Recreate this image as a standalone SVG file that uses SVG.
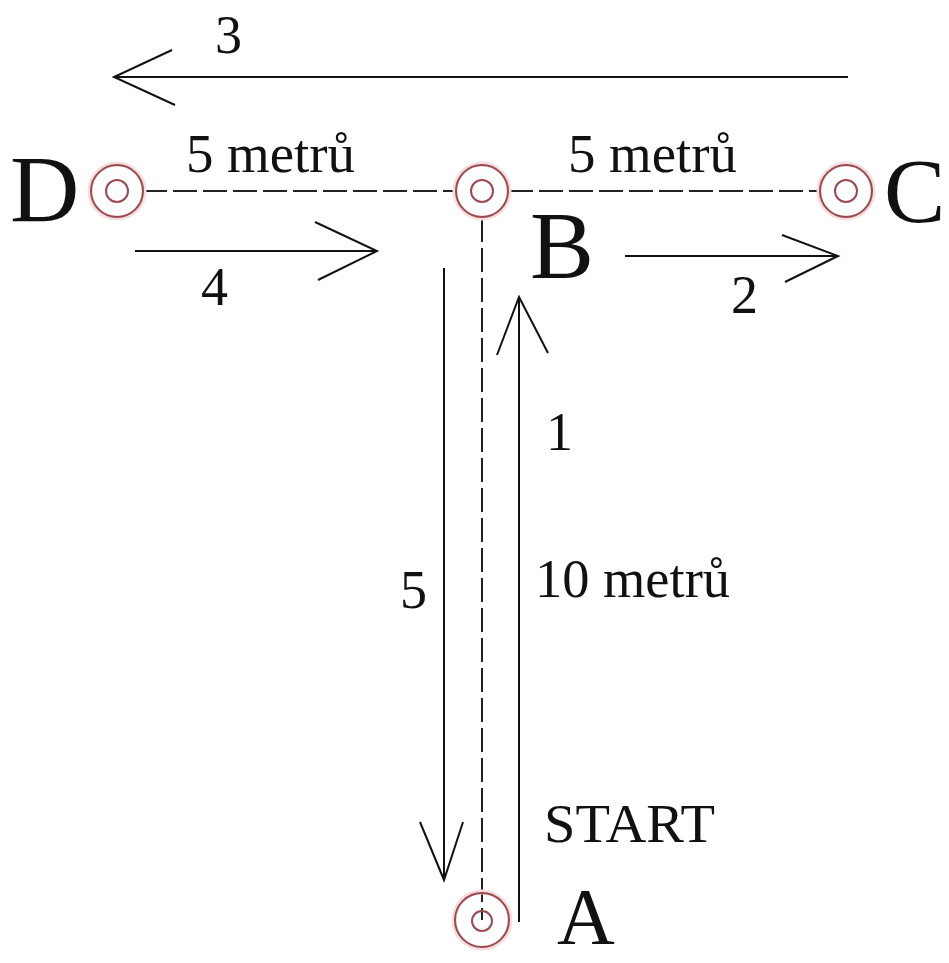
<svg xmlns="http://www.w3.org/2000/svg" width="949" height="963" viewBox="0 0 949 963">
<style>
.ln{stroke:#111;stroke-width:2;fill:none}
.ds{stroke:#222;stroke-width:2;fill:none;stroke-dasharray:24 6}
.rg{stroke:#9a4a50;stroke-width:2;fill:none}
.halo{stroke:#f6dede;stroke-width:5;fill:none}
.t{font-family:"Liberation Serif","Times New Roman",serif;fill:#111}
.lab{font-size:54px}
.big{font-size:96px}
</style>
<rect width="949" height="963" fill="#fff"/>
<g id="connectors">
<line class="ds" x1="143" y1="191" x2="456" y2="191"/>
<line class="ds" x1="509" y1="191" x2="820" y2="191"/>
<line class="ds" x1="482" y1="218" x2="482" y2="920"/>
<g id="arrow1"><line class="ln" x1="519" y1="922" x2="519" y2="297"/><polyline class="ln" points="497,355 519,297 548,353"/></g>
<g id="arrow2"><line class="ln" x1="625" y1="256" x2="838" y2="256"/><polyline class="ln" points="782,235 838,256 785,282"/></g>
<g id="arrow3"><line class="ln" x1="848" y1="77" x2="114" y2="77"/><polyline class="ln" points="172,50 114,77 175,105"/></g>
<g id="arrow4"><line class="ln" x1="135" y1="251" x2="377" y2="251"/><polyline class="ln" points="315,222 377,251 318,280"/></g>
<g id="arrow5"><line class="ln" x1="444" y1="268" x2="444" y2="880"/><polyline class="ln" points="420,822 444,880 463,822"/></g>
</g>
<g id="nodeD"><circle class="halo" cx="117" cy="191" r="27"/><circle class="rg" cx="117" cy="191" r="26"/><circle class="rg" cx="117" cy="191" r="11"/><text class="t big" x="10" y="222">D</text></g>
<g id="nodeB"><circle class="halo" cx="482" cy="191" r="27"/><circle class="rg" cx="482" cy="191" r="26"/><circle class="rg" cx="482" cy="191" r="11"/><text class="t big" x="530" y="278">B</text></g>
<g id="nodeC"><circle class="halo" cx="846" cy="191" r="27"/><circle class="rg" cx="846" cy="191" r="26"/><circle class="rg" cx="846" cy="191" r="11"/><text class="t" font-size="92" x="884" y="222">C</text></g>
<g id="nodeA"><circle class="halo" cx="482" cy="920" r="28"/><circle class="rg" cx="482" cy="920" r="27"/><circle class="rg" cx="482" cy="921" r="10"/><text class="t" font-size="80" x="557" y="944">A</text></g>
<g id="labels">
<text class="t lab" x="215" y="53">3</text>
<text class="t lab" x="186" y="172" textLength="169" lengthAdjust="spacingAndGlyphs">5 metrů</text>
<text class="t lab" x="568" y="172" textLength="169" lengthAdjust="spacingAndGlyphs">5 metrů</text>
<text class="t lab" x="201" y="305">4</text>
<text class="t lab" x="731" y="313">2</text>
<text class="t lab" x="546" y="450">1</text>
<text class="t lab" x="400" y="608">5</text>
<text class="t lab" x="535" y="597" textLength="195" lengthAdjust="spacingAndGlyphs">10 metrů</text>
<text class="t lab" x="544" y="842" textLength="171" lengthAdjust="spacingAndGlyphs">START</text>
</g>
</svg>
